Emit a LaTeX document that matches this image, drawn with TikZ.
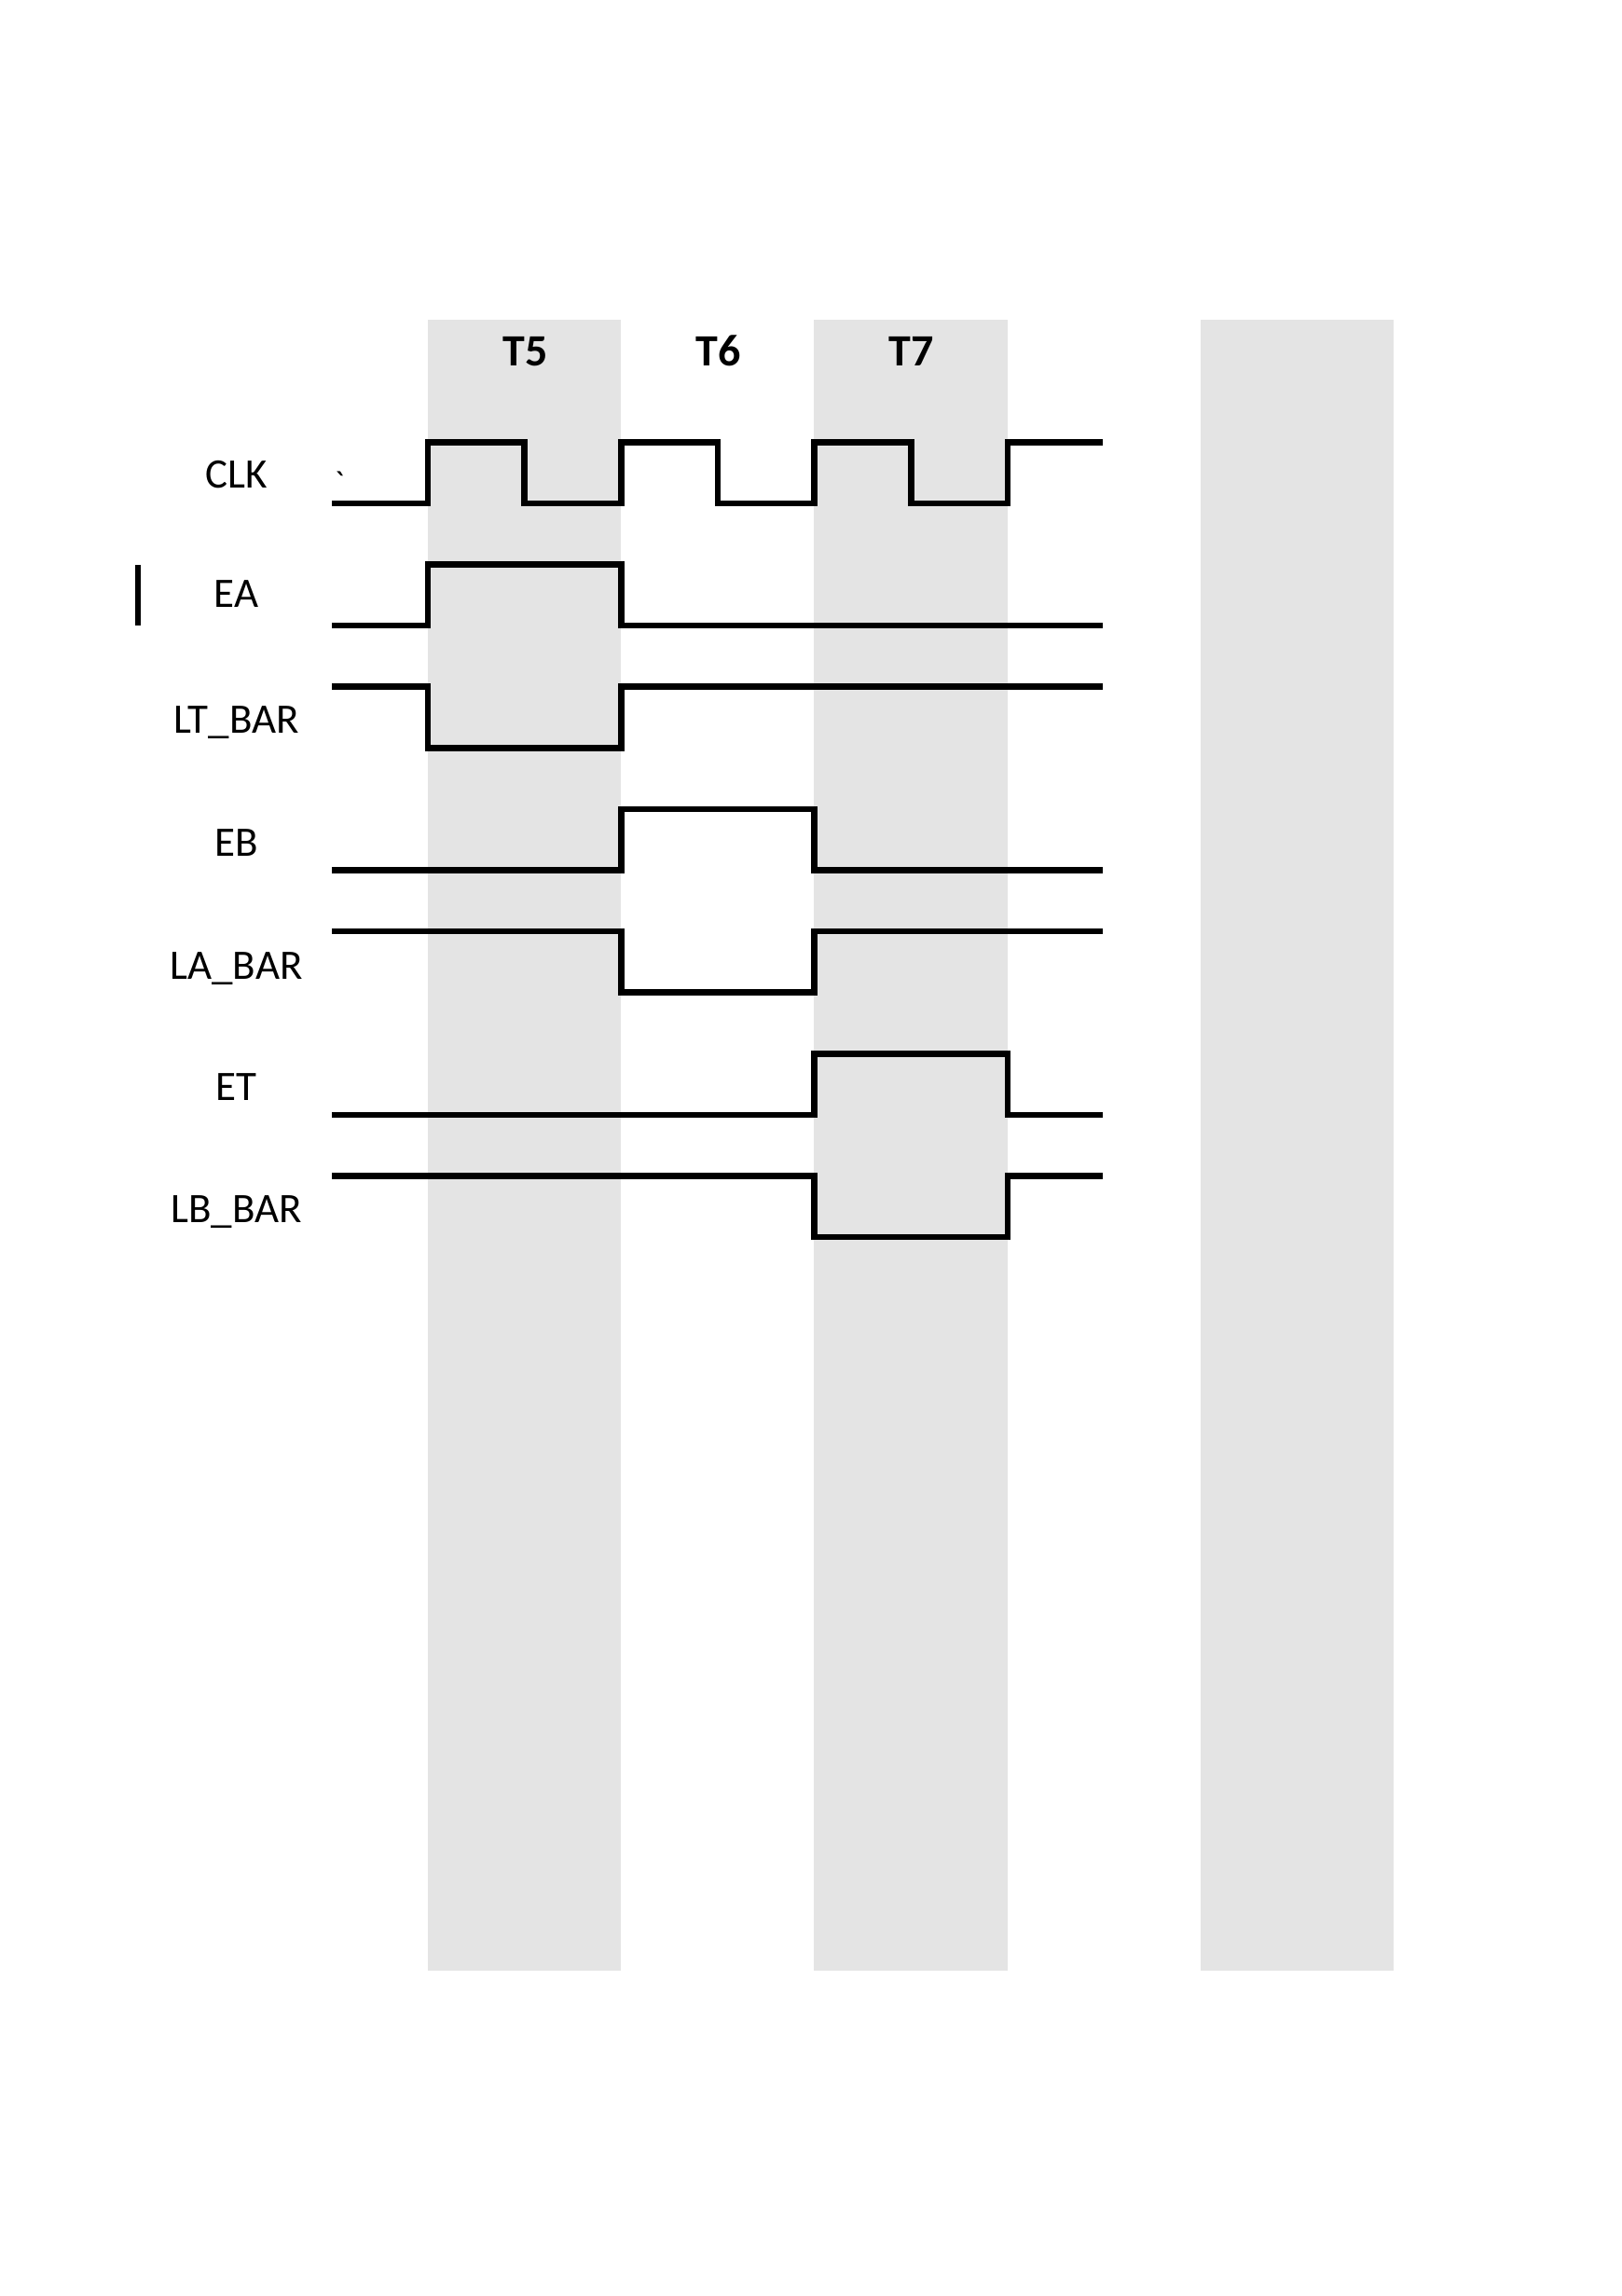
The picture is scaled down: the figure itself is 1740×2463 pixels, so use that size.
\documentclass[tikz,border=0pt]{standalone}
\usepackage{fontspec}
\setmainfont{Carlito}
\newfontfamily\rawfont{Carlito}[Ligatures=TeXOff]
\definecolor{bandgray}{RGB}{228,228,228}
\begin{document}
\begin{tikzpicture}[x=1pt,y=-1pt,
  sig/.style={line width=6.5pt, line join=miter},
  lbl/.style={anchor=base, font=\fontsize{45}{52}\selectfont, inner sep=0pt},
  ttl/.style={anchor=base, font=\fontsize{48}{56}\selectfont\bfseries, inner sep=0pt},
  band/.style={fill=bandgray}]
\fill[white] (0,0) rectangle (1740,2463);
\useasboundingbox (0,0) rectangle (1740,2463);
% shaded bands
\foreach \a/\b in {458.6/666.0, 873.1/1080.6, 1287.7/1495.2}
  \fill[band] (\a,343) rectangle (\b,2114);
% titles
\node[ttl] (t5) at (563.5,392) {T5};
\node[ttl] (t6) at (771,392) {T6};
\node[ttl] (t7) at (978,392) {T7};
% signal labels
\node[lbl] (lclk) at (253.5,523.3) {CLK};
\node[lbl] (lea) at (253.5,651.7) {EA};
\node[lbl] (llt) at (253.5,786.7) {LT\_BAR};
\node[lbl] (leb) at (253.5,918.3) {EB};
\node[lbl] (lla) at (253.5,1050) {LA\_BAR};
\node[lbl] (let) at (253.5,1180) {ET};
\node[lbl] (llb) at (253.5,1311.7) {LB\_BAR};
\node[lbl, font=\fontsize{36}{40}\selectfont\rawfont] (tick) at (364,530) {\symbol{96}};
% stray bar
\draw[line width=6.5pt] (148,606) -- (148,670.6);
% waveforms
\draw[sig] (356,539.9) -- (459,539.9) -- (459,474.3) -- (562.7,474.3) -- (562.7,539.9) -- (666.3,539.9) -- (666.3,474.3) -- (770,474.3) -- (770,539.9) -- (873.6,539.9) -- (873.6,474.3) -- (977.3,474.3) -- (977.3,539.9) -- (1080.9,539.9) -- (1080.9,474.3) -- (1183,474.3);
\draw[sig] (356,671.1) -- (459,671.1) -- (459,605.5) -- (666.3,605.5) -- (666.3,671.1) -- (1183,671.1);
\draw[sig] (356,736.7) -- (459,736.7) -- (459,802.3) -- (666.3,802.3) -- (666.3,736.7) -- (1183,736.7);
\draw[sig] (356,933.5) -- (666.3,933.5) -- (666.3,867.9) -- (873.6,867.9) -- (873.6,933.5) -- (1183,933.5);
\draw[sig] (356,999.1) -- (666.3,999.1) -- (666.3,1064.7) -- (873.6,1064.7) -- (873.6,999.1) -- (1183,999.1);
\draw[sig] (356,1195.9) -- (873.6,1195.9) -- (873.6,1130.3) -- (1080.9,1130.3) -- (1080.9,1195.9) -- (1183,1195.9);
\draw[sig] (356,1261.5) -- (873.6,1261.5) -- (873.6,1327.1) -- (1080.9,1327.1) -- (1080.9,1261.5) -- (1183,1261.5);
\end{tikzpicture}
\end{document}
